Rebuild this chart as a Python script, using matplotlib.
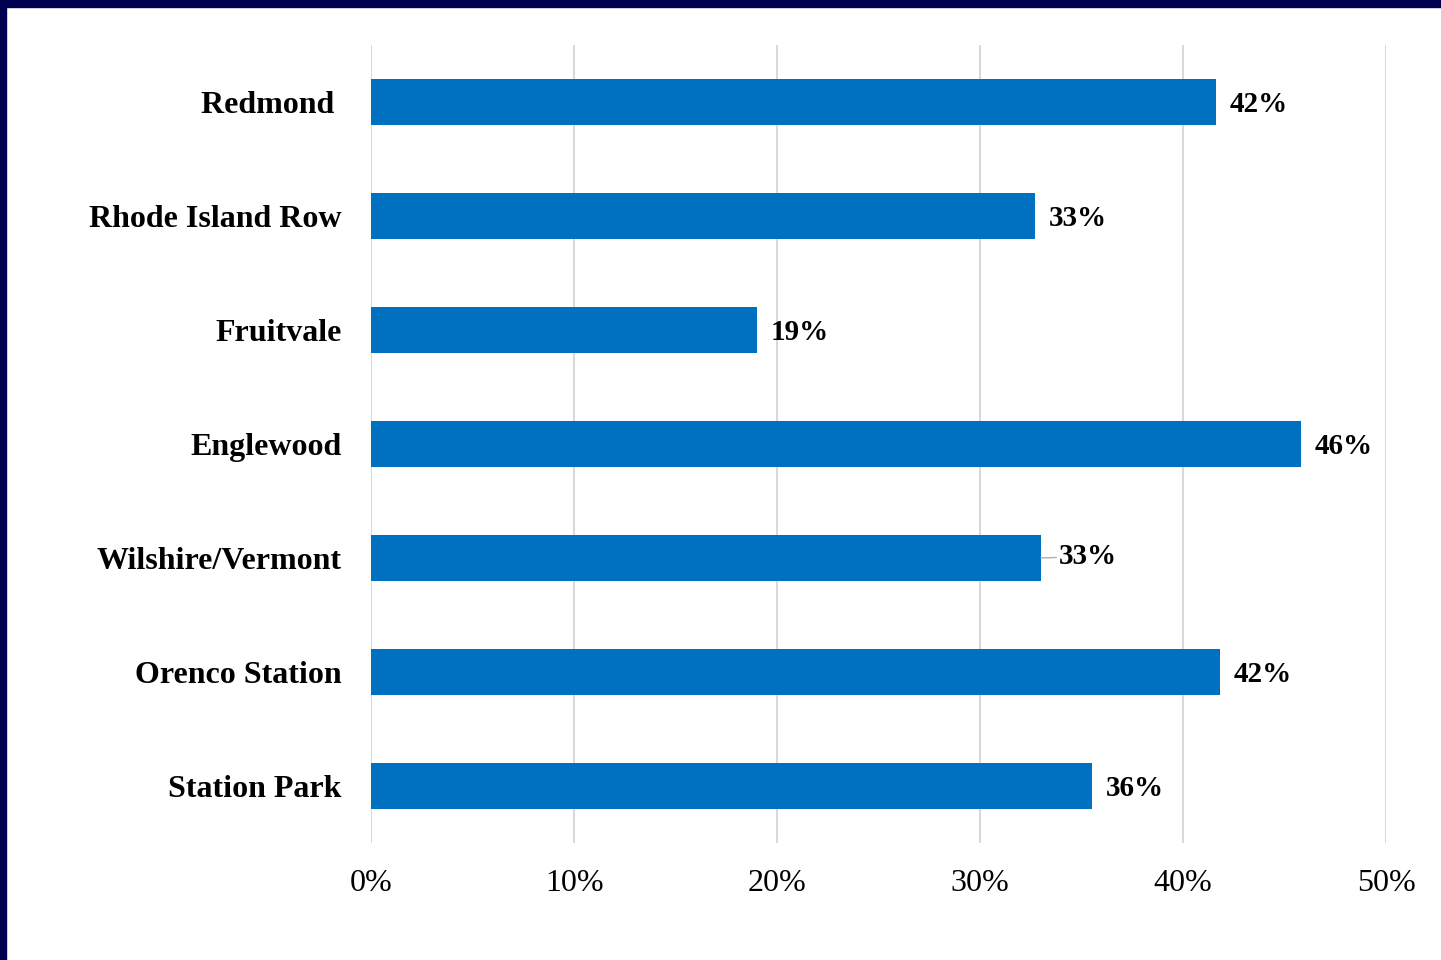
import matplotlib.pyplot as plt
from matplotlib.patches import Rectangle

stations = ["Redmond", "Rhode Island Row", "Fruitvale", "Englewood",
            "Wilshire/Vermont", "Orenco Station", "Station Park"]
shares = [41.6, 32.7, 19.0, 45.8, 33.0, 41.8, 35.5]
xticks = [0, 10, 20, 30, 40, 50]

bar_color = "#0070C0"
grid_color = "#d9d9d9"
frame_color = "#000050"

plt.rcParams["font.family"] = ["Liberation Serif", "DejaVu Serif"]

fig = plt.figure(figsize=(14.41, 9.6), dpi=100)
ax = fig.add_axes([0.2575, 0.122, 0.7044, 0.831])

ypos = list(range(len(stations)))
ax.barh(ypos, shares, height=0.4, color=bar_color, zorder=3)
ax.set_ylim(len(stations) - 0.5, -0.5)
ax.set_xlim(0, 50)

ax.set_xticks(xticks)
ax.set_xticklabels([f"{t}%" for t in xticks], fontsize=23)
ax.set_yticks(ypos)
# Redmond's label sits a little further left
ax.set_yticklabels([s + " " if s == "Redmond" else s for s in stations],
                   fontsize=23, fontweight="bold")
ax.tick_params(axis="x", length=0, pad=19)
ax.tick_params(axis="y", length=0, pad=21)

ax.grid(axis="x", color=grid_color, linewidth=1.5, zorder=0)
for sp in ax.spines.values():
    sp.set_visible(False)

for i, v in enumerate(shares):
    if stations[i] == "Wilshire/Vermont":
        ax.annotate(f"{v:.0f}%", xy=(v, i), xytext=(13, 1),
                    textcoords="offset points", va="center", ha="left",
                    fontsize=21, fontweight="bold",
                    arrowprops=dict(arrowstyle="-", color="#b0b0b0", lw=1,
                                    shrinkA=0, shrinkB=0))
    else:
        ax.annotate(f"{v:.0f}%", xy=(v, i), xytext=(10, -2),
                    textcoords="offset points", va="center", ha="left",
                    fontsize=21, fontweight="bold")

# dark frame along the top and left edges
fig.patches.append(Rectangle((0, 1 - 7 / 960), 1, 7 / 960, transform=fig.transFigure,
                             color=frame_color, zorder=10))
fig.patches.append(Rectangle((0, 0), 6 / 1441, 1, transform=fig.transFigure,
                             color=frame_color, zorder=10))

fig.savefig("out.png", dpi=100)
